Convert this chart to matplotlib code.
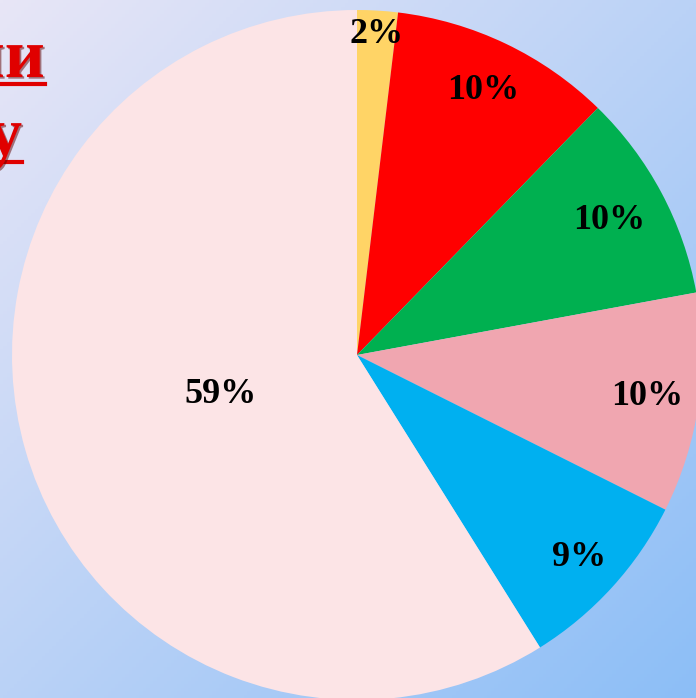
import numpy as np
import matplotlib
matplotlib.use("Agg")
from matplotlib import pyplot as plt
from matplotlib import patheffects as pe

# slice shares (clockwise from 12 o'clock)
shares = [1.9, 10.4, 9.8, 10.3, 8.7, 58.9]
labels = ["2%", "10%", "10%", "10%", "9%", "59%"]
colors = ["#FFD466", "#FF0000", "#00B050", "#F0A6B0", "#00B0F0", "#FCE4E6"]
label_dist = [0.93, 0.85, 0.83, 0.85, 0.87, 0.41]

W, H = 696, 698
cx, cy, R = 357, 355, 345
xlim = (-cx / R, (W - cx) / R)
ylim = (-(H - cy) / R, cy / R)

fig = plt.figure(figsize=(W / 100, H / 100), dpi=100)
ax = fig.add_axes([0, 0, 1, 1])

# background gradient
gx, gy = np.meshgrid(np.linspace(0, 1, 200), np.linspace(0, 1, 200))
t = (gx + gy) / 2
c0 = np.array([232, 230, 246]) / 255
c1 = np.array([140, 190, 246]) / 255
img = c0 + (c1 - c0) * t[..., None]
ax.imshow(img, extent=[xlim[0], xlim[1], ylim[0], ylim[1]],
          aspect="auto", zorder=0)

wedges, _ = ax.pie(shares, colors=colors, startangle=90, counterclock=False,
                   radius=1, wedgeprops=dict(linewidth=0))
for w in wedges:
    w.set_zorder(2)

for w, lab, d in zip(wedges, labels, label_dist):
    mid = np.deg2rad((w.theta1 + w.theta2) / 2)
    ax.text(d * np.cos(mid), d * np.sin(mid), lab, ha="center", va="center",
            fontsize=26, fontweight="bold", family="Liberation Serif",
            color="black", zorder=3)

ax.set_aspect("auto")
ax.set_xlim(*xlim)
ax.set_ylim(*ylim)
ax.axis("off")

# title tail (cut off at the left edge)
sh = [pe.SimplePatchShadow(offset=(1.2, -1.2), shadow_rgbFace="#600000", alpha=0.5), pe.Normal()]
t1 = fig.text(45 / W, 1 - 60 / H, "ии", ha="right", va="center", fontsize=50,
              fontweight="bold", family="Liberation Serif", color="#E00000")
t2 = fig.text(22 / W, 1 - 138 / H, "у", ha="right", va="center", fontsize=50,
              fontweight="bold", family="Liberation Serif", color="#E00000")
t1.set_path_effects(sh)
t2.set_path_effects(sh)
fig.add_artist(plt.Line2D([0, 45 / W], [1 - 84 / H] * 2, color="#E00000", lw=3,
                          transform=fig.transFigure))
fig.add_artist(plt.Line2D([0, 22 / W], [1 - 162 / H] * 2, color="#E00000", lw=3,
                          transform=fig.transFigure))

fig.savefig("out.png", dpi=100)
